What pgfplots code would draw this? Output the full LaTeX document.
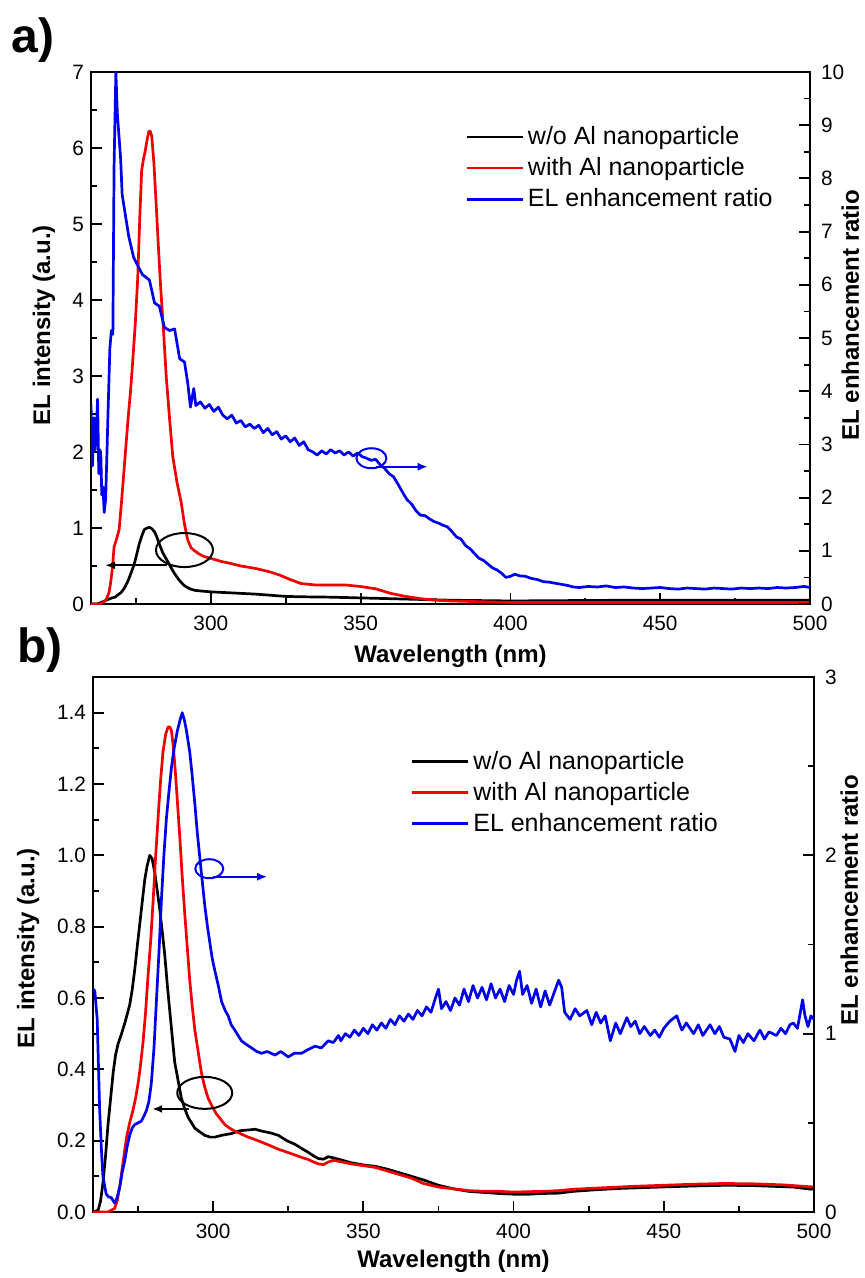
\documentclass[border=0pt]{standalone}
\usepackage{fontspec}
\setmainfont{Liberation Sans}
\usepackage{pgfplots}
\pgfplotsset{compat=1.18}
\usetikzlibrary{arrows.meta}
\definecolor{cred}{RGB}{240,0,0}
\definecolor{cblue}{RGB}{0,0,235}
\pgfplotsset{
  common/.style={
    scale only axis, xmin=260, xmax=500,
    tick align=inside,
    xtick={300,350,400,450,500}, minor xtick={275,325,375,425,475},
    major tick length=5.5pt, minor tick length=3pt,
    every tick/.style={black, line width=0.9pt},
    axis line style={line width=1.1pt},
    tick label style={font=\fontsize{10.4}{12}\selectfont},
    xticklabel style={yshift=-2.5pt},
    /pgf/number format/assume math mode=true,
    label style={font=\bfseries\fontsize{12}{14}\selectfont, inner sep=0pt},
  },
  rightax/.style={yticklabel style={xshift=2pt}},
  curve/.style={line width=1.35pt, line join=round},
  leg/.style={
    legend cell align=left,
    legend image code/.code={\draw[##1] (0pt,0pt) -- (28pt,0pt);},
    legend style={at={#1}, anchor=north west, draw=none, fill=none,
      font=\fontsize{12.5}{15}\selectfont, inner sep=0pt, row sep=1pt},
  },
}
\begin{document}
\begin{tikzpicture}
% ---------------- panel a ----------------
\begin{axis}[common, at={(45.5pt,-302pt)}, anchor=south west, width=359.5pt, height=266pt,
  ymin=0, ymax=7, ytick={0,1,2,3,4,5,6,7}, minor ytick={0.5,1.5,2.5,3.5,4.5,5.5,6.5},
  xtick pos=bottom, ytick pos=left,
  xlabel={Wavelength (nm)}, ylabel={EL intensity (a.u.)},
  xlabel style={at={(axis description cs:0.5,-0.098)}, anchor=center},
  ylabel style={at={(axis description cs:-0.0654,0.524)}, anchor=center}]
\addplot[curve, black] coordinates {
(260,0) (262,0) (264,0.03) (265,0.05) (267,0.08) (268,0.09) (270,0.15) (271,0.2) (272.2,0.29) (273.3,0.4) (274.4,0.52) (275.3,0.66) (276.1,0.79) (277,0.9) (277.8,0.98) (278.7,1.0) (279.5,1.01) (280.3,0.99) (281.2,0.95) (282,0.88) (282.8,0.79) (284,0.67) (285.6,0.56) (287,0.46) (287.9,0.40) (289.5,0.31) (291.2,0.24) (293,0.2) (294.6,0.18) (297,0.17) (300,0.16) (305,0.15) (310,0.14) (315,0.13) (320,0.115) (325,0.10) (330,0.095) (340,0.09) (350,0.08) (360,0.07) (370,0.06) (380,0.05) (390,0.045) (400,0.04) (420,0.045) (440,0.05) (460,0.05) (480,0.05) (500,0.05)};
\addplot[curve, cred] coordinates {
(260,0) (263,0) (264,0.02) (265,0.05) (266,0.15) (266.6,0.29) (267.2,0.5) (267.7,0.75) (268.5,0.85) (269.4,0.98) (270.2,1.35) (271.1,1.8) (272.4,2.45) (273.2,2.8) (273.9,3.18) (274.8,3.7) (275.6,4.29) (276.3,5.1) (276.9,5.7) (277.5,5.85) (278,5.94) (278.7,6.1) (279.3,6.22) (279.8,6.22) (280.3,6.15) (281,5.8) (281.7,5.3) (282.5,4.7) (283.2,4.2) (284.2,3.6) (285.1,3.0) (286.2,2.45) (287.3,1.94) (288.7,1.6) (290.1,1.34) (291.2,1.05) (292.3,0.84) (293.4,0.74) (294.6,0.70) (296,0.66) (297.4,0.63) (300,0.6) (303.5,0.56) (307,0.53) (310,0.5) (314.7,0.47) (320,0.42) (323,0.38) (326,0.33) (330,0.27) (335,0.25) (340,0.25) (345,0.25) (350,0.23) (355,0.2) (360,0.14) (365,0.1) (370,0.07) (375,0.05) (380,0.04) (390,0.03) (400,0.02) (420,0.02) (450,0.02) (480,0.02) (500,0.02)};
\draw[black, line width=1pt] (axis cs:291.2,0.71) ellipse [x radius=14.25pt, y radius=8.5pt];
\draw[black, line width=1pt, -{Latex[length=5pt,width=4pt]}] (axis cs:285.5,0.51) -- (axis cs:264.7,0.51);
\end{axis}
\begin{axis}[common, rightax, at={(45.5pt,-302pt)}, anchor=south west, width=359.5pt, height=266pt,
  ymin=0, ymax=10, axis y line*=right, axis x line=none,
  ytick={0,1,2,3,4,5,6,7,8,9,10}, minor ytick={0.5,1.5,2.5,3.5,4.5,5.5,6.5,7.5,8.5,9.5},
  ylabel={EL enhancement ratio},
  ylabel style={at={(axis description cs:1.056,0.543)}, anchor=center},
  leg={(0.52,0.906)}]
\addlegendimage{curve, black}\addlegendentry{w/o Al nanoparticle}
\addlegendimage{curve, cred}\addlegendentry{with Al nanoparticle}
\addplot[curve, cblue] coordinates {
(260,3.76) (260.5,2.6) (261,3.5) (261.4,2.9) (261.8,3.3) (262.2,3.85) (262.6,2.45) (263,2.9) (263.3,2.77) (263.6,2.05) (264,2.2) (264.4,1.72) (264.9,1.98) (265.4,3.0) (265.7,3.63) (266.3,4.81) (266.8,5.14) (267.3,5.07) (267.7,8.23) (268.3,10) (268.8,9.21) (269.9,8.36) (270.4,7.7) (271.5,7.3) (272.6,6.91) (274.2,6.52) (275.6,6.36) (277.2,6.19) (279.5,6.09) (281.2,5.66) (282.8,5.6) (284.5,5.2) (286.2,5.14) (287.9,5.17) (289.6,4.61) (291.2,4.55) (292.3,4.15) (293.2,3.7) (294.3,4.05) (295,3.73)
(296.5,3.80) (298,3.68) (299.5,3.75) (301,3.62) (302.5,3.70) (304,3.55) (305.5,3.48) (307,3.55) (308.5,3.40) (310,3.45) (311.5,3.33) (313,3.38) (314.5,3.30) (316,3.36) (317.5,3.22) (319,3.30) (320.5,3.18) (322,3.24) (323.5,3.10) (325,3.16) (326.5,3.05) (328,3.12) (329.5,2.98) (331,3.05) (332.5,2.90) (334,2.86) (335.5,2.80) (337,2.88) (338.5,2.82) (340,2.90) (341.5,2.84) (343,2.88) (344.5,2.80) (346,2.86) (347.5,2.78) (349,2.84) (350.5,2.77) (352,2.74) (353.5,2.70) (355,2.72) (356.5,2.62) (358,2.55) (359.5,2.45) (361,2.39) (362.5,2.25) (364,2.10) (365.5,1.96) (367,1.88) (368.5,1.75) (370,1.67) (371.5,1.66) (373,1.60) (374.5,1.55) (376,1.52) (377.5,1.48) (379,1.45) (380.5,1.36) (382,1.26) (383.5,1.22) (385,1.10) (386.5,1.04) (388,0.95) (389.5,0.86) (391,0.82) (392.5,0.75) (394,0.68) (395.5,0.64) (397,0.58) (398.5,0.50) (400,0.52) (401.5,0.56) (403,0.53) (405,0.52) (407,0.48) (409,0.46) (411,0.42) (413,0.41) (415,0.39) (417,0.37) (419,0.35) (421,0.32) (423,0.31) (426,0.33) (429,0.32) (432,0.34) (435,0.31) (438,0.32) (441,0.30) (444,0.29) (447,0.30) (450,0.31) (453,0.29) (456,0.28) (459,0.30) (462,0.29) (465,0.28) (468,0.30) (471,0.29) (474,0.28) (477,0.30) (480,0.29) (483,0.30) (486,0.29) (489,0.31) (492,0.30) (495,0.31) (498,0.33) (500,0.31)};
\addlegendentry{EL enhancement ratio}
\draw[cblue, line width=1pt] (axis cs:353.6,2.74) ellipse [x radius=7.5pt, y radius=5pt];
\draw[cblue, line width=1pt, -{Latex[length=5pt,width=4pt]}] (axis cs:355,2.58) -- (axis cs:372.4,2.58);
\end{axis}
% ---------------- panel b ----------------
\begin{axis}[common, at={(46.5pt,-606pt)}, anchor=south west, width=360.5pt, height=267.5pt,
  ymin=0, ymax=1.5, ytick={0,0.2,0.4,0.6,0.8,1.0,1.2,1.4}, minor ytick={0.1,0.3,0.5,0.7,0.9,1.1,1.3},
  yticklabel style={/pgf/number format/.cd, fixed, fixed zerofill, precision=1},
  xtick pos=bottom, ytick pos=left,
  xlabel={Wavelength (nm)}, ylabel={EL intensity (a.u.)},
  xlabel style={at={(axis description cs:0.5,-0.093)}, anchor=center},
  ylabel style={at={(axis description cs:-0.09,0.493)}, anchor=center}]
\addplot[curve, black] coordinates {
(260,0.0) (261.7,0.005) (262.5,0.03) (263.3,0.08) (264.2,0.16) (265,0.245) (266,0.33) (266.7,0.39) (267.5,0.44) (268.3,0.47) (269.5,0.5) (270.6,0.53) (272.2,0.58) (273,0.62) (273.9,0.68) (274.8,0.75) (275.6,0.81) (276.4,0.87) (277.2,0.93) (278,0.97) (278.9,1.0) (279.7,0.99) (280.6,0.95) (281.4,0.9) (282.2,0.85) (283,0.79) (283.9,0.72) (284.7,0.64) (285.6,0.56) (286.4,0.49) (287.2,0.42) (288.3,0.37) (289.4,0.32) (290.5,0.29) (291.7,0.265) (292.8,0.25) (293.9,0.235) (295.5,0.225) (297.2,0.215) (299,0.21) (300.6,0.21) (302.8,0.215) (306.1,0.22) (309,0.228) (311.7,0.23) (314,0.232) (316.1,0.227) (319,0.222) (321.7,0.215) (324.5,0.2) (327.2,0.19) (329.5,0.178) (331.7,0.167) (333.5,0.157) (335,0.15) (336.7,0.148) (338.3,0.155) (340,0.152) (343,0.145) (346,0.138) (350,0.132) (354,0.128) (358,0.12) (362,0.11) (366,0.1) (370,0.09) (375,0.075) (380,0.065) (385,0.058) (390,0.055) (395,0.052) (400,0.05) (405,0.05) (410,0.052) (415,0.053) (420,0.058) (426.6,0.062) (435,0.066) (448.8,0.07) (460,0.073) (471,0.075) (480,0.074) (493,0.07) (499,0.064) (500,0.065)};
\addplot[curve, cred] coordinates {
(260,0) (265,0.0) (267.2,0.01) (268,0.03) (268.9,0.07) (270,0.14) (271.1,0.206) (272.2,0.25) (273.3,0.285) (274.2,0.32) (275,0.36) (275.8,0.41) (276.7,0.48) (277.5,0.56) (278.3,0.66) (279.2,0.76) (280,0.87) (280.8,0.99) (281.7,1.11) (282.5,1.21) (283.3,1.29) (284.2,1.34) (285,1.36) (285.6,1.36) (286.1,1.35) (286.8,1.3) (287.4,1.235) (288.1,1.15) (288.9,1.05) (289.7,0.94) (290.6,0.83) (291.4,0.74) (292.2,0.65) (293,0.58) (293.9,0.51) (295,0.45) (296.1,0.39) (297.2,0.35) (298.3,0.32) (299.7,0.295) (301.1,0.275) (302.5,0.26) (303.9,0.245) (305.5,0.235) (307.2,0.227) (309.5,0.218) (311.7,0.21) (314,0.203) (316.1,0.196) (319,0.186) (321.7,0.176) (324.5,0.168) (327.2,0.16) (329.5,0.153) (331.7,0.147) (333.5,0.14) (335,0.135) (336.7,0.133) (338.3,0.14) (340,0.145) (343,0.14) (346,0.135) (350,0.13) (354,0.125) (358,0.115) (362,0.105) (366,0.095) (370,0.08) (375,0.07) (380,0.065) (385,0.06) (390,0.058) (395,0.058) (400,0.056) (405,0.057) (410,0.058) (415,0.06) (420,0.064) (430,0.068) (440,0.072) (450,0.075) (460,0.078) (470,0.08) (480,0.079) (490,0.076) (500,0.07)};
\draw[black, line width=1pt] (axis cs:297.2,0.334) ellipse [x radius=13.75pt, y radius=8pt];
\draw[black, line width=1pt, -{Latex[length=5pt,width=4pt]}] (axis cs:292,0.289) -- (axis cs:279.7,0.289);
\end{axis}
\begin{axis}[common, rightax, at={(46.5pt,-606pt)}, anchor=south west, width=360.5pt, height=267.5pt,
  ymin=0, ymax=3, axis y line*=right, axis x line=none,
  ytick={0,1,2,3}, minor ytick={0.5,1.5,2.5},
  ylabel={EL enhancement ratio},
  ylabel style={at={(axis description cs:1.049,0.583)}, anchor=center},
  leg={(0.44,0.87)}]
\addlegendimage{curve, black}\addlegendentry{w/o Al nanoparticle}
\addlegendimage{curve, cred}\addlegendentry{with Al nanoparticle}
\addplot[curve, cblue] coordinates {
(260,1.25) (260.6,1.24) (261.4,1.08) (262.2,0.58) (262.8,0.35) (263.3,0.2) (264.4,0.1) (265.2,0.085) (266.1,0.08) (267.2,0.05) (268,0.08) (268.9,0.14) (269.7,0.22) (270.6,0.29) (271.4,0.37) (272.2,0.43) (273,0.47) (273.9,0.49) (275,0.5) (276.1,0.51) (277,0.54) (277.8,0.57) (278.6,0.62) (279.4,0.72) (280.3,0.92) (281.1,1.18) (282,1.47) (282.8,1.76) (283.6,2.0) (284.4,2.2) (285.3,2.36) (286.1,2.49) (287,2.6) (288.1,2.7) (289,2.76) (289.7,2.8) (290.4,2.76) (291.1,2.7) (292.2,2.58) (293,2.45) (293.9,2.29) (294.7,2.13) (295.6,1.98) (296.4,1.85) (297.2,1.72) (298.1,1.6) (298.9,1.51) (299.7,1.42) (300.6,1.35) (301.7,1.27) (302.8,1.18) (304,1.13) (305,1.1) (306,1.05) (307.2,1.02) (308.3,0.99) (309.4,0.96) (311,0.94) (312.8,0.92) (314.5,0.9) (316.1,0.89) (318,0.9) (320.6,0.88) (322.5,0.9) (325,0.87) (327,0.89) (329.4,0.89) (331.5,0.91) (333.9,0.93) (336,0.92) (338.3,0.96) (340,0.95) (341.7,0.99)
(342.5,0.96) (344,1.0) (345.5,0.98) (347,1.02) (348.5,0.99) (350,1.03) (351.5,1.0) (353,1.05) (354.5,1.02) (356,1.06) (357.5,1.03) (359,1.08) (360.5,1.05) (362,1.1) (363.5,1.07) (365,1.11) (366.5,1.08) (368,1.13) (369.5,1.1) (371,1.15) (372.5,1.12) (374,1.2) (375,1.25) (376,1.14) (377.5,1.18) (379,1.13) (380.5,1.2) (382,1.16) (383.5,1.25) (385,1.18) (386.5,1.27) (388,1.2) (389.5,1.26) (391,1.19) (392.5,1.28) (394,1.2) (395.5,1.25) (397,1.18) (398.5,1.27) (400,1.22) (401,1.3) (402,1.35) (403,1.22) (404.5,1.27) (406,1.17) (407.5,1.25) (409,1.15) (410.5,1.24) (412,1.16) (413.5,1.23) (415,1.3) (416,1.26) (417,1.12) (418.8,1.08) (420.5,1.14) (422,1.1) (424.4,1.13) (426,1.05) (427.5,1.12) (429,1.06) (430.5,1.1) (432.2,0.96) (434,1.06) (435.5,1.0) (437.7,1.09) (439,1.04) (440.5,1.07) (442,1.0) (443.5,1.04) (445.5,0.99) (447,1.02) (448.5,0.98) (450,1.03) (452,1.07) (454.3,1.1) (456,1.02) (457.5,1.06) (459.9,1.0) (461.5,1.05) (463,0.99) (465.4,1.05) (467,1.0) (468.5,1.04) (470,0.98) (472,0.97) (473.7,0.9) (475,0.99) (476.5,0.95) (478,1.0) (480,0.96) (482,1.02) (483.5,0.97) (485,1.01) (487.5,0.99) (489,1.03) (490.5,1.0) (492,1.05) (493.1,1.06) (494.5,1.03) (496.2,1.19) (497,1.1) (498,1.04) (499,1.1) (500,1.08)};
\addlegendentry{EL enhancement ratio}
\draw[cblue, line width=1pt] (axis cs:298.7,1.925) ellipse [x radius=7pt, y radius=4.75pt];
\draw[cblue, line width=1pt, -{Latex[length=5pt,width=4pt]}] (axis cs:300,1.88) -- (axis cs:318,1.88);
\end{axis}
\node[font=\bfseries\fontsize{24}{26}\selectfont] at (16.5pt,-20pt) {a)};
\node[font=\bfseries\fontsize{24}{26}\selectfont] at (20pt,-325pt) {b)};
\pgfresetboundingbox
\useasboundingbox (0,0) rectangle (432.5pt,-639pt);
\end{tikzpicture}
\end{document}
